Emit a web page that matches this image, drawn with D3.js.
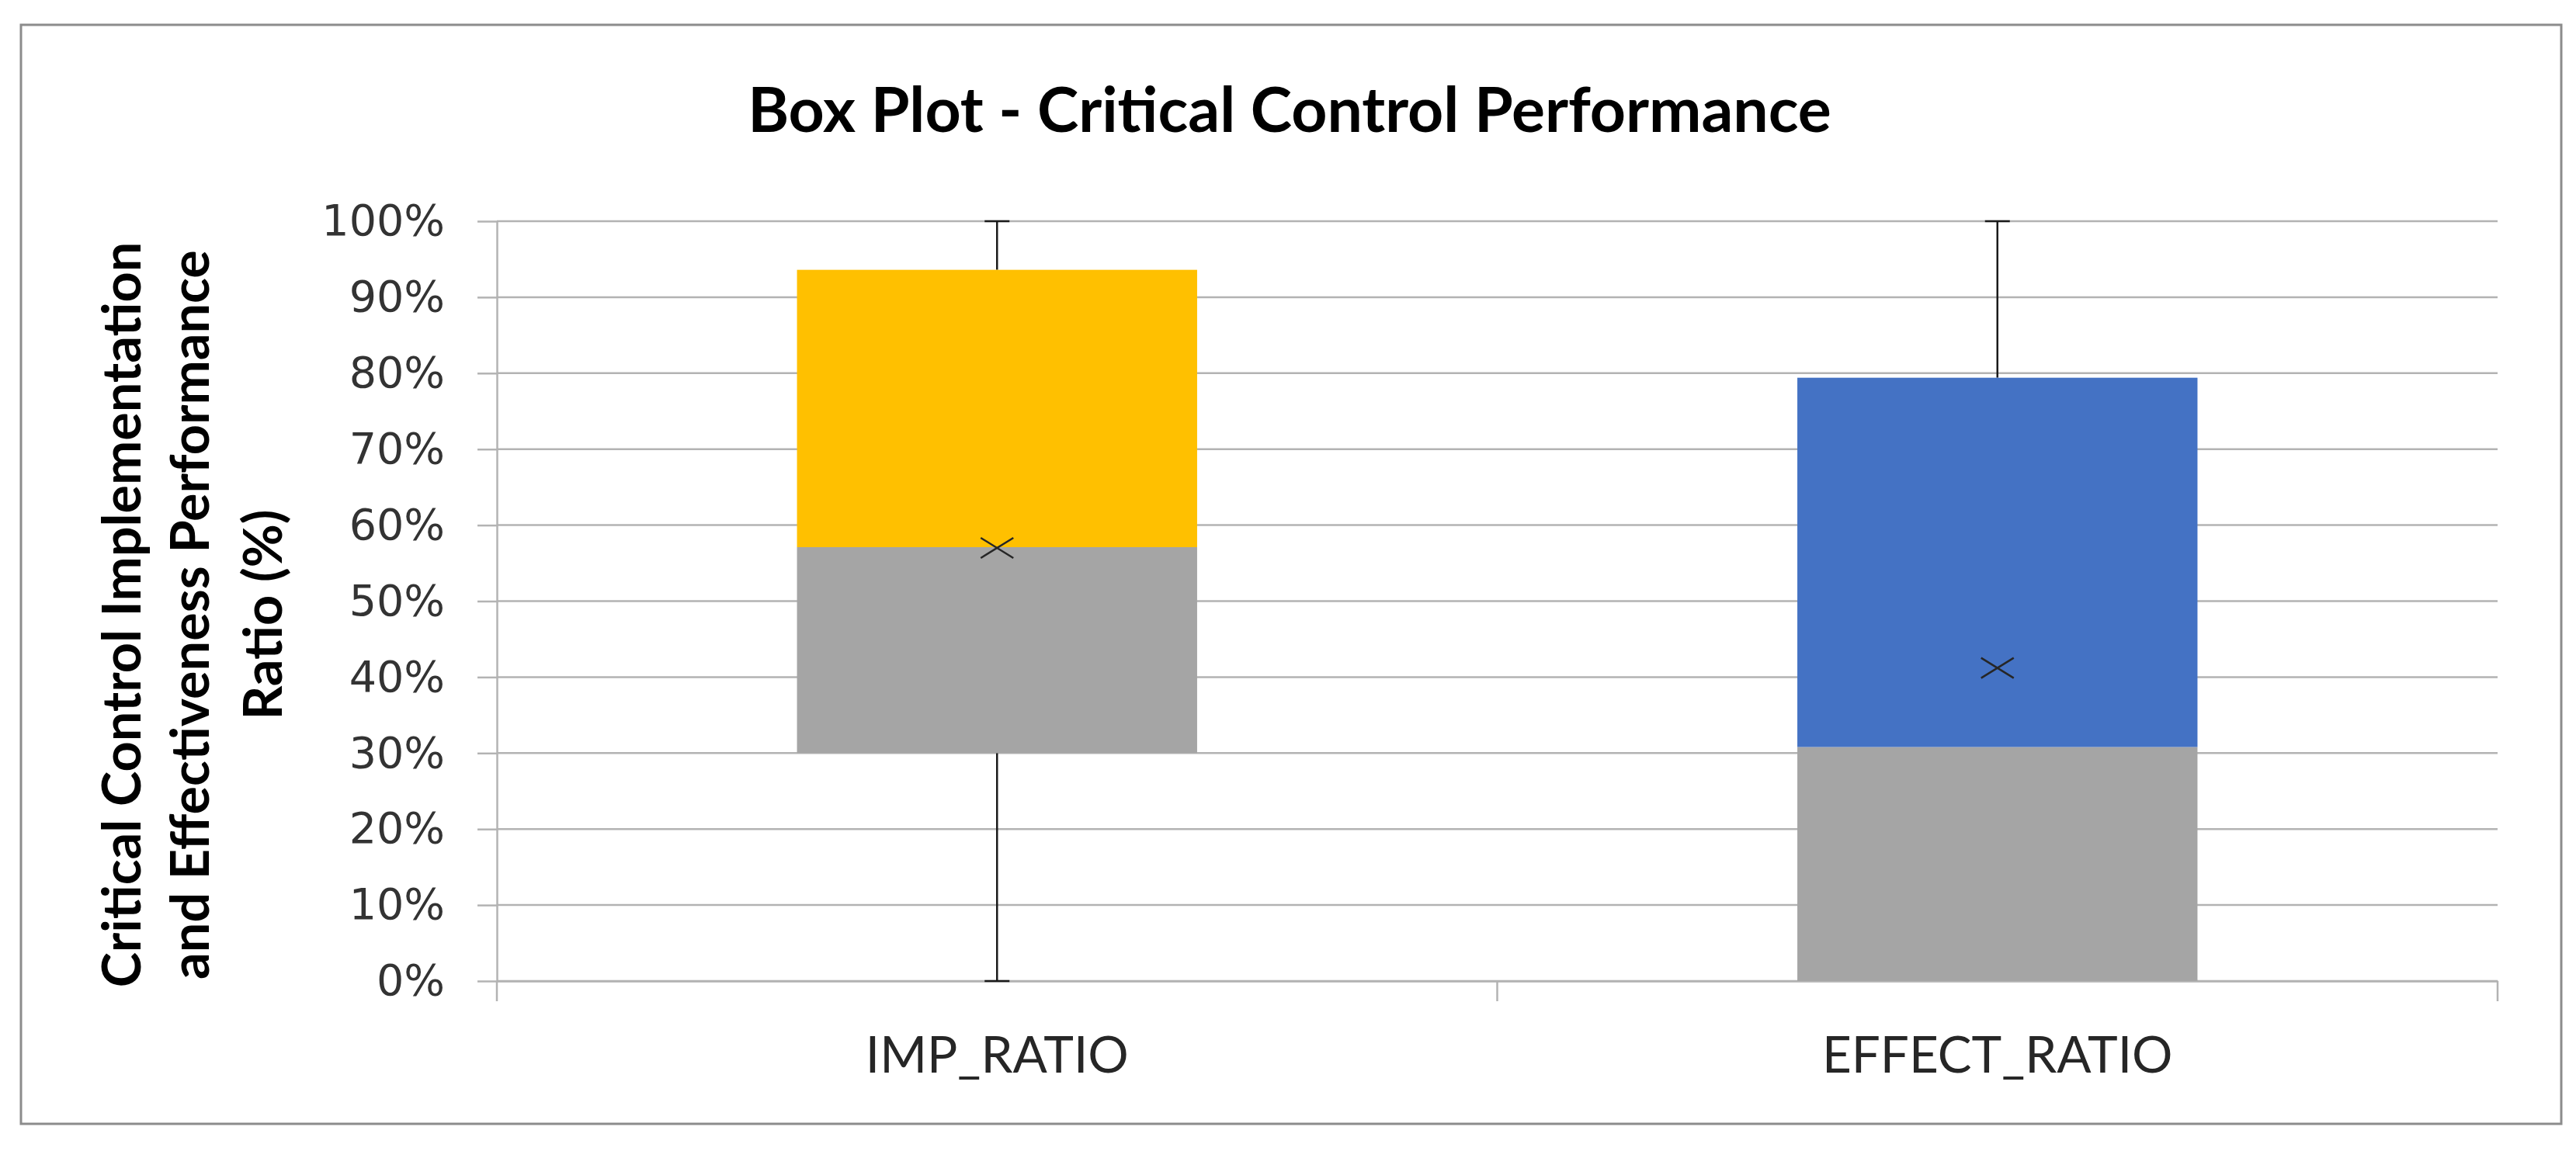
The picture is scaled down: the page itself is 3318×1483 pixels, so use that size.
<!DOCTYPE html>
<html>
<head>
<meta charset="utf-8">
<script src="https://cdn.jsdelivr.net/npm/d3@7"></script>
<style>
  html, body { margin: 0; padding: 0; background: #ffffff; }
  svg { display: block; }
</style>
</head>
<body>
<svg id="chart" width="3318" height="1483"></svg>
<script>
// ---- Data ----
const categories = ["IMP_RATIO", "EFFECT_RATIO"];
const whiskerLow = [0.0, 0.0];
const q1Values = [0.30, 0.0];
const medianValues = [0.571, 0.308];
const q3Values = [0.936, 0.794];
const whiskerHigh = [1.0, 1.0];
const meanValues = [0.570, 0.412];
const boxColors = ["#FFC000", "#4472C4"];
const yTickValues = [0, 0.1, 0.2, 0.3, 0.4, 0.5, 0.6, 0.7, 0.8, 0.9, 1.0];
const chartTitle = "Box Plot - Critical Control Performance";
const yTitleLines = ["Critical Control Implementation", "and Effectiveness Performance", "Ratio (%)"];

// ---- Layout ----
const W = 3318, H = 1483;
const plot = { left: 640, right: 3217, top: 285, bottom: 1264 };
const svg = d3.select("#chart");

// outer frame
svg.append("rect")
  .attr("x", 27).attr("y", 32).attr("width", 3299 - 27).attr("height", 1448 - 32)
  .attr("fill", "#ffffff").attr("stroke", "#8c8c8c").attr("stroke-width", 3);

const x = d3.scaleBand().domain(categories).range([plot.left, plot.right]).paddingInner(0).paddingOuter(0);
const y = d3.scaleLinear().domain([0, 1]).range([plot.bottom, plot.top]);

function fitFont(sel, target, base) {
  const len = sel.node().getComputedTextLength();
  return base * target / len;
}

// gridlines
svg.append("g").selectAll("line.grid").data(yTickValues).join("line")
  .attr("x1", plot.left).attr("x2", plot.right)
  .attr("y1", d => y(d)).attr("y2", d => y(d))
  .attr("stroke", "#b3b3b3").attr("stroke-width", 2.5);

// y axis
const yAxis = d3.axisLeft(y).tickValues(yTickValues).tickFormat(d3.format(".0%"))
  .tickSizeInner(25).tickSizeOuter(0).tickPadding(42);
const yg = svg.append("g").attr("transform", `translate(${plot.left},0)`).call(yAxis);
yg.select(".domain").attr("stroke", "#b3b3b3").attr("stroke-width", 2.5);
yg.selectAll(".tick line").attr("stroke", "#b3b3b3").attr("stroke-width", 2.5);
yg.selectAll(".tick text")
  .attr("font-family", "'DejaVu Sans', Verdana, sans-serif")
  .attr("font-size", 55.5).attr("fill", "#333333");

// x axis (labels only, ticks between categories like Excel)
const xAxis = d3.axisBottom(x).tickSize(0).tickPadding(0);
const xg = svg.append("g").attr("transform", `translate(0,${plot.bottom})`).call(xAxis);
xg.select(".domain").attr("stroke", "#b3b3b3").attr("stroke-width", 2.5);
const xTexts = xg.selectAll(".tick text")
  .attr("font-family", "Lato, 'Open Sans', sans-serif")
  .attr("font-size", 60).attr("fill", "#262626")
  .attr("dy", 0).attr("y", 118);
const xfs = fitFont(xg.select(".tick text"), 339, 60);
xTexts.attr("font-size", xfs);

const boundaries = [plot.left].concat(categories.map(c => x(c) + x.bandwidth()));
svg.append("g").selectAll("line").data(boundaries).join("line")
  .attr("x1", d => d).attr("x2", d => d)
  .attr("y1", plot.bottom).attr("y2", plot.bottom + 26)
  .attr("stroke", "#b3b3b3").attr("stroke-width", 2.5);

// boxes
const boxW = x.bandwidth() * 0.4;
const cx = c => x(c) + x.bandwidth() / 2;
const gBox = svg.append("g");
categories.forEach((c, i) => {
  const xc = cx(c);
  // whiskers
  gBox.append("line").attr("x1", xc).attr("x2", xc)
    .attr("y1", y(q3Values[i])).attr("y2", y(whiskerHigh[i]))
    .attr("stroke", "#1a1a1a").attr("stroke-width", 2.5);
  gBox.append("line").attr("x1", xc - 16).attr("x2", xc + 16)
    .attr("y1", y(whiskerHigh[i])).attr("y2", y(whiskerHigh[i]))
    .attr("stroke", "#1a1a1a").attr("stroke-width", 2.5);
  if (q1Values[i] > whiskerLow[i]) {
    gBox.append("line").attr("x1", xc).attr("x2", xc)
      .attr("y1", y(q1Values[i])).attr("y2", y(whiskerLow[i]))
      .attr("stroke", "#1a1a1a").attr("stroke-width", 2.5);
    gBox.append("line").attr("x1", xc - 16).attr("x2", xc + 16)
      .attr("y1", y(whiskerLow[i])).attr("y2", y(whiskerLow[i]))
      .attr("stroke", "#1a1a1a").attr("stroke-width", 2.5);
  }
  // lower box (Q1 - median)
  gBox.append("rect")
    .attr("x", xc - boxW / 2).attr("width", boxW)
    .attr("y", y(medianValues[i])).attr("height", y(q1Values[i]) - y(medianValues[i]))
    .attr("fill", "#A5A5A5");
  // upper box (median - Q3)
  gBox.append("rect")
    .attr("x", xc - boxW / 2).attr("width", boxW)
    .attr("y", y(q3Values[i])).attr("height", y(medianValues[i]) - y(q3Values[i]))
    .attr("fill", boxColors[i]);
  // mean marker
  const my = y(meanValues[i]), s = 21;
  gBox.append("path")
    .attr("d", `M${xc - s},${my - s * 0.62}L${xc + s},${my + s * 0.62}M${xc - s},${my + s * 0.62}L${xc + s},${my - s * 0.62}`)
    .attr("stroke", "#262626").attr("stroke-width", 2.5).attr("fill", "none");
});

// title
const title = svg.append("text")
  .attr("x", 1661).attr("y", 170).attr("text-anchor", "middle")
  .attr("font-family", "Lato, 'Open Sans', sans-serif").attr("font-weight", "bold")
  .attr("font-size", 60).attr("fill", "#000000").text(chartTitle);
title.attr("font-size", fitFont(title, 1396, 60));

// y axis title (rotated, 3 lines)
const yTitleX = [163, 251, 345];
const yTitleCenter = 792;
const yt = svg.append("g");
const tLines = yt.selectAll("text").data(yTitleLines).join("text")
  .attr("transform", (d, i) => `translate(${yTitleX[i] + 18},${yTitleCenter}) rotate(-90)`)
  .attr("text-anchor", "middle")
  .attr("font-family", "Lato, 'Open Sans', sans-serif").attr("font-weight", "bold")
  .attr("font-size", 60).attr("fill", "#000000").text(d => d);
const yfs = fitFont(yt.select("text"), 961, 60);
tLines.attr("font-size", yfs);
</script>
</body>
</html>
